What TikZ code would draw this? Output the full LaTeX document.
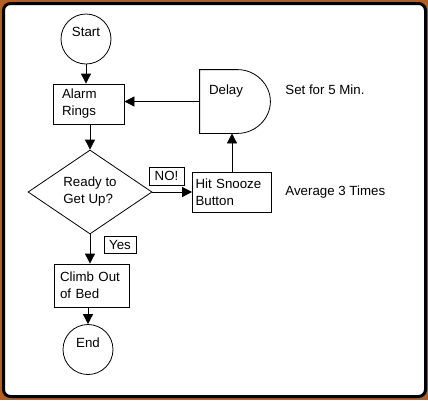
\documentclass[tikz,border=0pt]{standalone}
\usepackage{fontspec}
\setmainfont{Liberation Sans}
\usetikzlibrary{shapes.geometric,arrows.meta}
\definecolor{frameorange}{RGB}{175,95,40}

\begin{document}
\begin{tikzpicture}[x=1pt,y=-1pt,
	font=\fontsize{13.3}{17}\selectfont,
	line width=0.8pt,
	terminal/.style={draw, circle, minimum size=50pt, inner sep=1pt, text height=9pt, text depth=14pt},
	procbox/.style n args={2}{draw, rectangle, text width=#1, inner xsep=#2, align=left},
	decision/.style={draw, diamond, minimum width=124pt, minimum height=84pt, inner sep=0pt, align=left},
	tagbox/.style={draw, rectangle, inner sep=2pt},
	note/.style={anchor=west, inner sep=0pt},
	arrow/.style={-{Triangle[length=10pt,width=10pt]}}]
	\useasboundingbox (0,0) rectangle (428,400);
	\fill[frameorange] (0,0) rectangle (428,400);
	\draw[line width=3pt, fill=white, rounded corners=7pt] (3.5,3.5) rectangle (425.5,396.5);

	\node[terminal] (start) at (86,39) {Start};
	\node[procbox={53pt}{9pt}, minimum height=40pt] (alarm) at (88.5,104) {Alarm\\Rings};
	\node[decision] (ready) at (90,192) {Ready to\\Get Up?};
	\node[procbox={73pt}{3pt}, minimum height=40pt] (snooze) at (232,192) {Hit Snooze\\Button};
	\node[minimum width=70pt, minimum height=63pt, text width=52pt, inner xsep=9pt, align=left, text height=9pt, text depth=23pt] (delay) at (235,101.5) {Delay};
	\draw ([xshift=38pt]delay.north west) -- (delay.north west) -- (delay.south west) -- ([xshift=38pt]delay.south west)
		.. controls +(17.7,0) and +(0,17.4) .. (delay.east)
		.. controls +(0,-17.4) and +(17.7,0) .. ([xshift=38pt]delay.north west);
	\node[procbox={63pt}{6pt}, minimum height=43pt] (climb) at (91.5,285.5) {Climb Out\\of Bed};
	\node[terminal] (end) at (88,349.5) {End};

	\node[tagbox, minimum width=35pt, minimum height=18pt] (no) at (166.5,176) {NO!};
	\node[tagbox, minimum width=32pt, minimum height=17pt] (yes) at (120,244.5) {Yes};
	\node[note] (setfor) at (285,90) {Set for 5 Min.};
	\node[note] (average) at (285,192) {Average 3 Times};

	\draw[arrow] (start.south) -- (start.south |- alarm.north);
	\draw[arrow] (delay.west) -- (delay.west -| alarm.east);
	\draw[arrow] (ready.north |- alarm.south) -- (ready.north);
	\draw[arrow] (ready.east) -- (snooze.west);
	\draw[arrow] (snooze.north) -- (snooze.north |- delay.south);
	\draw[arrow] (ready.south) -- (ready.south |- climb.north);
	\draw[arrow] (end.north |- climb.south) -- (end.north);
\end{tikzpicture}
\end{document}
